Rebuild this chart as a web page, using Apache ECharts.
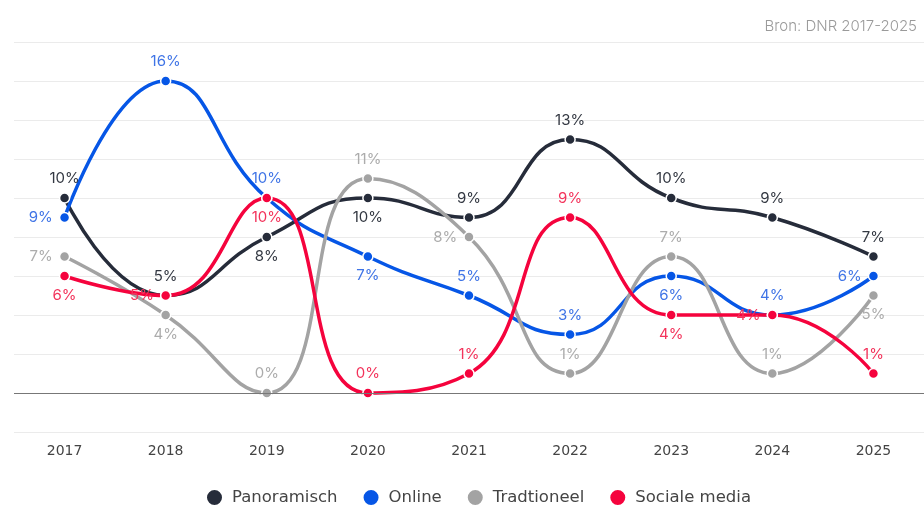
<!DOCTYPE html>
<html>
<head>
<meta charset="utf-8">
<script src="https://cdn.jsdelivr.net/npm/echarts@6/dist/echarts.min.js"></script>
<style>
  html, body { margin: 0; padding: 0; background: #fff; }
  #chart { width: 924px; height: 505px; }
</style>
</head>
<body>
<div id="chart"></div>
<script>
const years = ['2017', '2018', '2019', '2020', '2021', '2022', '2023', '2024', '2025'];

const panoramisch = [10, 5, 8, 10, 9, 13, 10, 9, 7];
const online = [9, 16, 10, 7, 5, 3, 6, 4, 6];
const traditioneel = [7, 4, 0, 11, 8, 1, 7, 1, 5];
const socialeMedia = [6, 5, 10, 0, 1, 9, 4, 4, 1];

// where each value label sits, per point
const panoramischPos = ['top', 'top', 'bottom', 'bottom', 'top', 'top', 'top', 'top', 'top'];
const onlinePos = ['left', 'top', 'top', 'bottom', 'top', 'top', 'bottom', 'top', 'left'];
const traditioneelPos = ['left', 'bottom', 'top', 'top', 'left', 'top', 'top', 'top', 'bottom'];
const socialeMediaPos = ['bottom', 'left', 'bottom', 'top', 'top', 'top', 'bottom', 'left', 'top'];

const font = 'Inter, "Noto Sans", sans-serif';
const wideFont = '"DejaVu Sans", sans-serif';

const makeSeries = (name, values, positions, lineColor, labelColor) => ({
  name: name,
  type: 'line',
  smooth: 0.5,
  symbol: 'circle',
  symbolSize: 10,
  lineStyle: { width: 3.5, color: lineColor },
  itemStyle: { color: lineColor, borderColor: '#fff', borderWidth: 1.5 },
  label: {
    show: true,
    formatter: '{c}%',
    color: labelColor,
    fontFamily: font,
    fontSize: 15,
    distance: 6,
  },
  emphasis: { disabled: true },
  data: values.map((v, i) => ({
    value: v,
    label: { position: positions[i] },
  })),
});

const chart = echarts.init(document.getElementById('chart'));
chart.setOption({
  animation: false,
  title: {
    text: 'Bron: DNR 2017-2025',
    right: 2,
    top: 14,
    textStyle: {
      fontFamily: font,
      fontSize: 15,
      fontWeight: 300,
      color: '#9a9a9a',
    },
  },
  legend: {
    top: 483,
    left: 200,
    icon: 'circle',
    itemWidth: 17,
    itemHeight: 17,
    itemGap: 24,
    textStyle: {
      fontFamily: wideFont,
      fontSize: 16.5,
      color: '#444',
      padding: [0, 0, 0, 4],
    },
    data: ['Panoramisch', 'Online', 'Tradtioneel', 'Sociale media'],
  },
  grid: {
    left: 14,
    right: 0,
    top: 42,
    bottom: 73,
    containLabel: false,
  },
  xAxis: {
    type: 'category',
    data: years,
    boundaryGap: true,
    axisLine: { show: false },
    axisTick: { show: false },
    axisLabel: {
      margin: 12,
      fontFamily: wideFont,
      fontSize: 14,
      color: '#444',
    },
  },
  yAxis: {
    type: 'value',
    min: -2,
    max: 18,
    interval: 2,
    axisLabel: { show: false },
    axisLine: { show: false },
    axisTick: { show: false },
    splitLine: {
      lineStyle: {
        color: '#ebebeb',
        width: 1,
      },
    },
  },
  series: [
    makeSeries('Panoramisch', panoramisch, panoramischPos, '#262c3a', '#333842'),
    makeSeries('Online', online, onlinePos, '#0656e6', '#3f74e6'),
    makeSeries('Tradtioneel', traditioneel, traditioneelPos, '#a3a3a3', '#acacac'),
    Object.assign(
      makeSeries('Sociale media', socialeMedia, socialeMediaPos, '#f5033d', '#f3335b'),
      {
        markLine: {
          silent: true,
          symbol: 'none',
          label: { show: false },
          lineStyle: { color: '#777', width: 1, type: 'solid' },
          data: [{ yAxis: 0 }],
        },
      },
    ),
  ],
});
</script>
</body>
</html>
